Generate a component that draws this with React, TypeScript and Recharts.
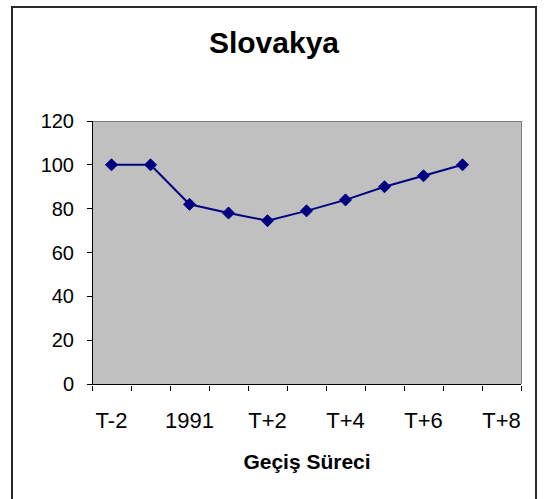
import React from 'react';
import { LineChart, Line, XAxis, YAxis, CartesianGrid } from 'recharts';

const periods = ['T-2', 'T-1', '1991', 'T+1', 'T+2', 'T+3', 'T+4', 'T+5', 'T+6', 'T+7', 'T+8'];
const slovakya = [100, 100, 82, 78, 74.5, 79, 84, 90, 95, 100, null];
const yTicks = [0, 20, 40, 60, 80, 100, 120];

const data = periods.map((name, i) => ({ name, value: slovakya[i] }));

const FONT = '"Liberation Sans", Arial, sans-serif';

const Diamond = (props: any) => {
    const { cx, cy } = props;
    if (cx == null || cy == null) return null;
    const r = 6;
    return (
        <polygon
            points={`${cx},${cy - r} ${cx + r},${cy} ${cx},${cy + r} ${cx - r},${cy}`}
            fill="#000080"
            stroke="#000080"
        />
    );
};

// label in the band centre, tick marks on both band edges (Excel style)
const BandTick = (props: any) => {
    const { x, y, payload, width } = props;
    const half = payload && payload.offset ? payload.offset : width / periods.length / 2;
    return (
        <g>
            <line x1={x - half} x2={x - half} y1={y} y2={y + 5} stroke="#000" shapeRendering="crispEdges" />
            <line x1={x + half} x2={x + half} y1={y} y2={y + 5} stroke="#000" shapeRendering="crispEdges" />
            <text x={x} y={y + 26} dy="0.71em" textAnchor="middle" fill="#000" fontSize={22} fontFamily={FONT}>
                {payload.value}
            </text>
        </g>
    );
};

const ValueTick = (props: any) => {
    const { x, y, payload } = props;
    return (
        <g>
            <line x1={x - 5} x2={x} y1={y} y2={y} stroke="#000" shapeRendering="crispEdges" />
            <text x={x - 18} y={y} dy="0.355em" textAnchor="end" fill="#000" fontSize={20} fontFamily={FONT}>
                {payload.value}
            </text>
        </g>
    );
};

export default function App() {
    return (
        <div style={{ position: 'absolute', left: 0, top: 0, width: 545, height: 499, background: '#fff', overflow: 'hidden', fontFamily: FONT }}>
            <div style={{ position: 'absolute', left: 11, top: 6, width: 522, height: 520, border: '2px solid #2a2a2a' }} />
            <div style={{ position: 'absolute', left: 0, top: 26, width: 548, textAlign: 'center', fontSize: 30, fontWeight: 'bold', color: '#000' }}>
                Slovakya
            </div>
            <div style={{ position: 'absolute', left: 0, top: 450, width: 614, textAlign: 'center', fontSize: 21, fontWeight: 'bold', color: '#000' }}>
                Geçiş Süreci
            </div>
            <div style={{ position: 'absolute', left: 0, top: 0 }}>
                <LineChart
                    width={545}
                    height={499}
                    data={data}
                    margin={{ top: 121, right: 24, bottom: 65, left: 0 }}
                >
                    {/* plot fill with grey top and right edges */}
                    <CartesianGrid
                        fill="#C0C0C0"
                        fillOpacity={1}
                        stroke="#808080"
                        shapeRendering="crispEdges"
                        horizontalCoordinatesGenerator={({ offset }: any) => [offset.top]}
                        verticalCoordinatesGenerator={({ offset }: any) => [offset.left + offset.width]}
                    />
                    {/* black axis lines on the left and bottom */}
                    <CartesianGrid
                        stroke="#000"
                        shapeRendering="crispEdges"
                        horizontalCoordinatesGenerator={({ offset }: any) => [offset.top + offset.height]}
                        verticalCoordinatesGenerator={({ offset }: any) => [offset.left]}
                    />
                    <XAxis
                        dataKey="name"
                        scale="band"
                        interval={1}
                        height={50}
                        axisLine={false}
                        tickLine={false}
                        tickSize={0}
                        tick={<BandTick />}
                    />
                    <YAxis
                        domain={[0, 120]}
                        ticks={yTicks}
                        interval={0}
                        width={92}
                        axisLine={false}
                        tickLine={false}
                        tickSize={0}
                        tickMargin={0}
                        tick={<ValueTick />}
                    />
                    <Line
                        dataKey="value"
                        stroke="#000080"
                        strokeWidth={2}
                        dot={<Diamond />}
                        activeDot={false}
                        connectNulls={false}
                        isAnimationActive={false}
                    />
                </LineChart>
            </div>
        </div>
    );
}
